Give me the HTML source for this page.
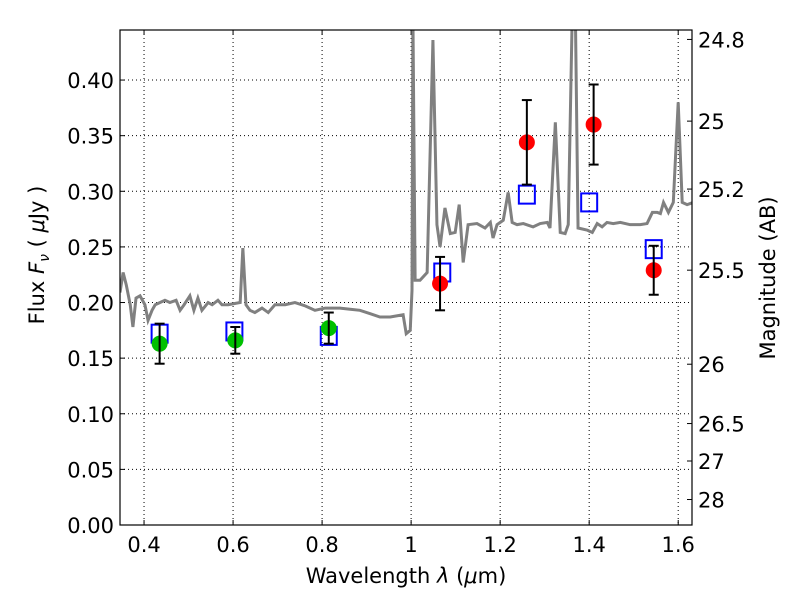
<!DOCTYPE html>
<html><head><meta charset="utf-8"><style>
body{margin:0;background:#fff}
svg text{font-family:"DejaVu Sans","Liberation Sans",sans-serif;font-size:21px;fill:#000}
</style></head><body>
<svg id="c" width="800" height="600"></svg>
<script>
const specWave=[0.346,0.353,0.360,0.369,0.375,0.382,0.391,0.402,0.409,0.418,0.425,0.436,0.447,0.458,0.472,0.481,0.490,0.503,0.512,0.521,0.530,0.544,0.553,0.566,0.575,0.589,0.616,0.622,0.629,0.638,0.649,0.665,0.679,0.694,0.717,0.739,0.762,0.784,0.807,0.840,0.863,0.885,0.908,0.930,0.953,0.982,0.989,0.998,1.002,1.004,1.009,1.013,1.020,1.036,1.049,1.058,1.065,1.076,1.088,1.099,1.108,1.117,1.128,1.148,1.166,1.178,1.184,1.193,1.207,1.218,1.227,1.238,1.252,1.274,1.290,1.306,1.312,1.324,1.335,1.346,1.353,1.362,1.369,1.375,1.396,1.407,1.418,1.429,1.440,1.454,1.470,1.492,1.515,1.530,1.542,1.553,1.560,1.567,1.578,1.589,1.600,1.609,1.620,1.634];
const specFlux=[0.209,0.227,0.216,0.198,0.178,0.204,0.206,0.198,0.184,0.193,0.198,0.200,0.202,0.200,0.202,0.193,0.198,0.206,0.193,0.204,0.193,0.200,0.198,0.202,0.198,0.198,0.200,0.249,0.198,0.193,0.191,0.195,0.191,0.198,0.198,0.200,0.197,0.193,0.195,0.195,0.194,0.193,0.190,0.187,0.187,0.189,0.172,0.175,0.211,0.460,0.220,0.220,0.220,0.227,0.436,0.270,0.250,0.285,0.262,0.263,0.288,0.236,0.270,0.271,0.267,0.272,0.258,0.270,0.274,0.299,0.272,0.270,0.271,0.268,0.271,0.272,0.267,0.362,0.263,0.262,0.270,0.460,0.460,0.267,0.265,0.263,0.271,0.268,0.272,0.271,0.272,0.270,0.270,0.271,0.281,0.281,0.280,0.290,0.281,0.290,0.380,0.290,0.288,0.290];
const obsWave=[0.435,0.605,0.815,1.065,1.26,1.41,1.545];
const obsFlux=[0.163,0.166,0.177,0.217,0.344,0.360,0.229];
const obsErr=[0.018,0.012,0.014,0.024,0.038,0.036,0.022];
const obsColor=["#00c000","#00c000","#00c000","red","red","red","red"];
const modelWave=[0.435,0.603,0.815,1.07,1.26,1.40,1.545];
const modelFlux=[0.172,0.174,0.170,0.227,0.297,0.290,0.248];
const xTicks=[0.4,0.6,0.8,1.0,1.2,1.4,1.6];
const xTickLabels=["0.4","0.6","0.8","1","1.2","1.4","1.6"];
const yTicks=[0,0.05,0.10,0.15,0.20,0.25,0.30,0.35,0.40];
const yTickLabels=["0.00","0.05","0.10","0.15","0.20","0.25","0.30","0.35","0.40"];
const magTicks=[24.8,25,25.2,25.5,26,26.5,27,28];

const L=120,R=692,T=30,B=525,X0=0.346,X1=1.631,Y0=0,Y1=0.445;
const xs=v=>L+(v-X0)/(X1-X0)*(R-L);
const ys=v=>B-(v-Y0)/(Y1-Y0)*(B-T);
const svg=document.getElementById('c');
const NS='http://www.w3.org/2000/svg';
function mk(tag,attrs,parent){const e=document.createElementNS(NS,tag);for(const k in attrs)e.setAttribute(k,attrs[k]);(parent||svg).appendChild(e);return e;}
const defs=mk('defs',{});
const cp=mk('clipPath',{id:'clip'},defs);mk('rect',{x:L,y:T,width:R-L,height:B-T},cp);

const grid=mk('g',{});


xTicks.forEach((t,i)=>{const x=xs(t);
 mk('line',{x1:x,x2:x,y1:T,y2:B,stroke:'#000','stroke-dasharray':'1,3','stroke-width':1},grid);
 mk('line',{x1:x,x2:x,y1:B,y2:B-5,stroke:'#000'},grid);mk('line',{x1:x,x2:x,y1:T,y2:T+5,stroke:'#000'},grid);
 const tx=mk('text',{x:x,y:B+27,'text-anchor':'middle'});tx.textContent=xTickLabels[i];
 
 
});
yTicks.forEach((t,i)=>{const y=ys(t);
 mk('line',{x1:L,x2:R,y1:y,y2:y,stroke:'#000','stroke-dasharray':'1,3','stroke-width':1},grid);
 mk('line',{x1:L,x2:L+5,y1:y,y2:y,stroke:'#000'},grid);
 const tx=mk('text',{x:L-6,y:y+8,'text-anchor':'end'});tx.textContent=yTickLabels[i];
 
 
});
magTicks.forEach(m=>{const f=Math.pow(10,(23.9-m)/2.5);const y=ys(f);
 mk('line',{x1:R,x2:R-5,y1:y,y2:y,stroke:'#000'});
 const tx=mk('text',{x:R+6,y:y+8});tx.textContent=String(m);
 
 
});

const pl=mk('polyline',{points:specWave.map((w,i)=>xs(w)+','+ys(specFlux[i])).join(' '),fill:'none',stroke:'#808080','stroke-width':3,'clip-path':'url(#clip)'});



modelWave.forEach((w,i)=>{const r=mk('rect',{x:xs(w)-8,y:ys(modelFlux[i])-9,width:16,height:18,fill:'none',stroke:'#0000ff','stroke-width':2});
 
 
});
obsWave.forEach((w,i)=>{const x=xs(w);
 const c=mk('circle',{cx:x,cy:ys(obsFlux[i]),r:8,fill:obsColor[i]});
 
 
 const y1=ys(obsFlux[i]-obsErr[i]),y2=ys(obsFlux[i]+obsErr[i]);
 const g=mk('g',{stroke:'#000','stroke-width':2});
 
 
 mk('line',{x1:x,x2:x,y1:y1,y2:y2},g);mk('line',{x1:x-5,x2:x+5,y1:y1,y2:y1},g);mk('line',{x1:x-5,x2:x+5,y1:y2,y2:y2},g);
});

const fr=mk('rect',{x:L,y:T,width:R-L,height:B-T,fill:'none',stroke:'#000','stroke-width':1.2});


</script>
<svg width="800" height="600" style="position:absolute;left:0;top:0">
<text x="406" y="583" text-anchor="middle">Wavelength  <tspan font-style="italic">λ</tspan> (<tspan font-style="italic">μ</tspan>m)</text>
<text transform="translate(44,255) rotate(-90)" text-anchor="middle">Flux  <tspan font-style="italic">F</tspan><tspan font-style="italic" font-size="14" dy="5">ν</tspan><tspan dy="-5">  (  </tspan><tspan font-style="italic">μ</tspan>Jy )</text>
<text transform="translate(775,278) rotate(-90)" text-anchor="middle">Magnitude (AB)</text>
</svg>
</body></html>
